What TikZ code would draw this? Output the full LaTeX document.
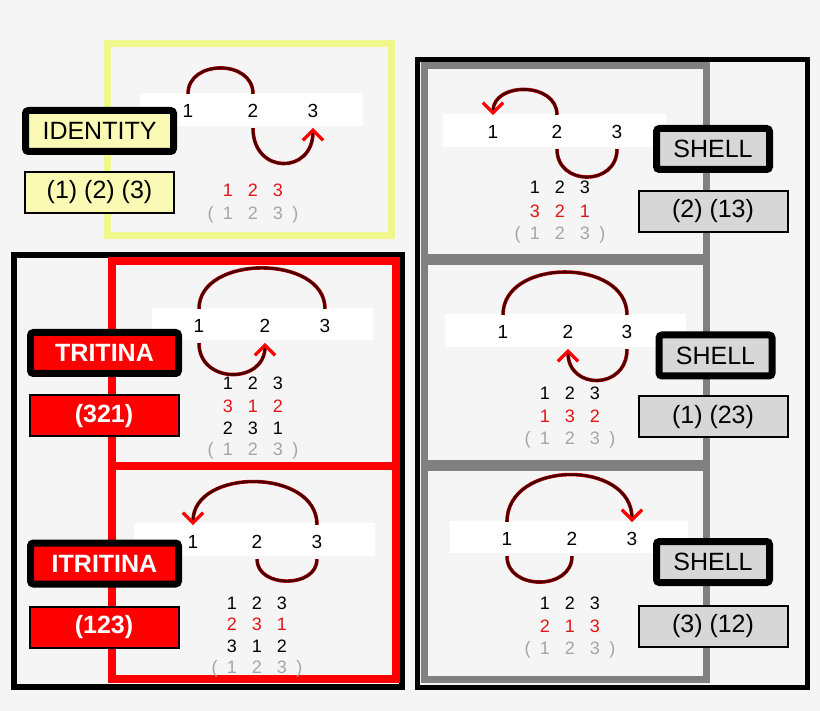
\documentclass[tikz,border=0pt]{standalone}
\usepackage{fontspec}
\setmainfont{Liberation Sans}
\usetikzlibrary{arrows.meta, positioning}
\definecolor{bggray}{RGB}{245,245,245}
\definecolor{idframe}{RGB}{240,248,140}
\definecolor{idfill}{RGB}{250,250,180}
\definecolor{hopdark}{RGB}{75,0,0}
\definecolor{numred}{RGB}{228,20,20}
\definecolor{numgray}{RGB}{165,165,165}
\definecolor{shframe}{RGB}{128,128,128}
\definecolor{shfill}{RGB}{215,215,215}
\newcommand{\lblfont}{\fontsize{25}{29}\selectfont}
\newcommand{\trio}[3]{\makebox[25pt]{#1}\makebox[25pt]{#2}\makebox[25pt]{#3}}
\newcommand{\cyc}{\llap{(\hspace{2pt}}\trio{1}{2}{3}\rlap{\hspace{2pt})}}

\begin{document}
\begin{tikzpicture}[x=1pt, y=-1pt,
  lblbox/.style={draw=black, line width=7, rounded corners=3, minimum height=41, inner sep=0, font=\lblfont},
  codebox/.style={draw=black, line width=2, minimum width=149, minimum height=41, inner sep=0, font=\lblfont},
  digit/.style={inner sep=0, minimum height=34, font=\fontsize{19}{22}\selectfont},
  permrow/.style={inner sep=0, anchor=base, font=\fontsize{18}{22}\selectfont},
  hop/.style={draw=hopdark, line width=2.6, preaction={draw=red!80!black, line width=3.6}},
  hoptip/.style={-{Straight Barb[color=red, length=10pt, width=20pt, line width=3pt]}}]

  \fill[bggray] (0,0) rectangle (820,711);

  % group frames
  \draw[black, line width=6] (14,255) rectangle (402,687);
  \draw[red, line width=8] (112,261) rectangle (396,466);
  \draw[red, line width=8] (112,466) rectangle (396,679);
  \draw[idframe, line width=7] (107,44) rectangle (391,236);
  \draw[black, line width=5] (417.5,59.5) rectangle (807,687.5);
  \draw[shframe, line width=7] (424,65.5) rectangle (706.5,258);
  \draw[shframe, line width=7] (424,262) rectangle (706.5,464);
  \draw[shframe, line width=7] (424,467) rectangle (706.5,679);

  % white strips
  \fill[white] (140,93) rectangle (363,126);
  \fill[white] (152,308) rectangle (373,340);
  \fill[white] (134,523) rectangle (375,556);
  \fill[white] (443,114) rectangle (666,147);
  \fill[white] (445,314) rectangle (686,347);
  \fill[white] (450,521) rectangle (688,553);

  % Identity
  \node[digit] (i1) at (188,111) {1};
  \node[digit] (i2) at (253,111) {2};
  \node[digit] (i3) at (313,111) {3};
  \draw[hop] (i1.north) to[out=90, in=90, looseness=1.36] (i2.north);
  \draw[hop, hoptip] (i2.south) to[out=-90, in=-90, looseness=1.99] (i3.south);
  \node[permrow, text=numred] (ir1) at (253,196.5) {\trio{1}{2}{3}};
  \node[permrow, text=numgray] (ir2) at (253,219.5) {\cyc};
  \node[lblbox, fill=idfill, minimum width=148] (idname) at (99.5,131) {IDENTITY};
  \node[codebox, fill=idfill] (idcode) at (99.5,192.5) {(1) (2) (3)};

  % Tritina
  \node[digit] (t1) at (199,326) {1};
  \node[digit] (t2) at (265,326) {2};
  \node[digit] (t3) at (325,326) {3};
  \draw[hop] (t1.north) to[out=90, in=90, looseness=1.11] (t3.north);
  \draw[hop, hoptip] (t1.south) to[out=-90, in=-90, looseness=1.6] (t2.south);
  \node[permrow] (tr1) at (253,389.5) {\trio{1}{2}{3}};
  \node[permrow, text=numred] (tr2) at (253,412.5) {\trio{3}{1}{2}};
  \node[permrow] (tr3) at (253,434.5) {\trio{2}{3}{1}};
  \node[permrow, text=numgray] (tr4) at (253,455.5) {\cyc};
  \node[lblbox, fill=red, text=white, minimum width=148, font=\lblfont\bfseries] (triname) at (104.5,353) {TRITINA};
  \node[codebox, fill=red, text=white, font=\lblfont\bfseries] (tricode) at (104,416) {(321)};

  % Itritina
  \node[digit] (u1) at (193,542) {1};
  \node[digit] (u2) at (257,542) {2};
  \node[digit] (u3) at (317,542) {3};
  \draw[hop, hoptip] (u3.north) to[out=90, in=90, looseness=1.18] (u1.north);
  \draw[hop] (u2.south) to[out=-90, in=-90, looseness=1.25] (u3.south);
  \node[permrow] (ur1) at (257,609.5) {\trio{1}{2}{3}};
  \node[permrow, text=numred] (ur2) at (257,630.5) {\trio{2}{3}{1}};
  \node[permrow] (ur3) at (257,652.5) {\trio{3}{1}{2}};
  \node[permrow, text=numgray] (ur4) at (257,673.5) {\cyc};
  \node[lblbox, fill=red, text=white, minimum width=148, font=\lblfont\bfseries] (itriname) at (104.5,563.5) {ITRITINA};
  \node[codebox, fill=red, text=white, font=\lblfont\bfseries] (itricode) at (104,627) {(123)};

  % Shell (2)(13)
  \node[digit] (a1) at (493,132) {1};
  \node[digit] (a2) at (557,132) {2};
  \node[digit] (a3) at (617,132) {3};
  \draw[hop, hoptip] (a2.north) to[out=90, in=90, looseness=1.33] (a1.north);
  \draw[hop] (a2.south) to[out=-90, in=-90, looseness=1.59] (a3.south);
  \node[permrow] (ar1) at (560,193.5) {\trio{1}{2}{3}};
  \node[permrow, text=numred] (ar2) at (560,217.5) {\trio{3}{2}{1}};
  \node[permrow, text=numgray] (ar3) at (560,239.5) {\cyc};
  \node[lblbox, fill=shfill, minimum width=113] (aname) at (713,149) {SHELL};
  \node[codebox, fill=shfill] (acode) at (713,211.5) {(2) (13)};

  % Shell (1)(23)
  \node[digit] (b1) at (503,332) {1};
  \node[digit] (b2) at (568,332) {2};
  \node[digit] (b3) at (627,332) {3};
  \draw[hop] (b1.north) to[out=90, in=90, looseness=1.18] (b3.north);
  \draw[hop, hoptip] (b3.south) to[out=-90, in=-90, looseness=1.79] (b2.south);
  \node[permrow] (br1) at (570,399.5) {\trio{1}{2}{3}};
  \node[permrow, text=numred] (br2) at (570,422.5) {\trio{1}{3}{2}};
  \node[permrow, text=numgray] (br3) at (570,444.5) {\cyc};
  \node[lblbox, fill=shfill, minimum width=113] (bname) at (715.5,355.5) {SHELL};
  \node[codebox, fill=shfill] (bcode) at (713,417) {(1) (23)};

  % Shell (3)(12)
  \node[digit] (c1) at (507,539) {1};
  \node[digit] (c2) at (572,539) {2};
  \node[digit] (c3) at (632,539) {3};
  \draw[hop, hoptip] (c1.north) to[out=90, in=90, looseness=1.28] (c3.north);
  \draw[hop] (c1.south) to[out=-90, in=-90, looseness=1.36] (c2.south);
  \node[permrow] (cr1) at (570,609.5) {\trio{1}{2}{3}};
  \node[permrow, text=numred] (cr2) at (570,632.5) {\trio{2}{1}{3}};
  \node[permrow, text=numgray] (cr3) at (570,654.5) {\cyc};
  \node[lblbox, fill=shfill, minimum width=113] (cname) at (713,562) {SHELL};
  \node[codebox, fill=shfill] (ccode) at (713,626) {(3) (12)};
\end{tikzpicture}
\end{document}
